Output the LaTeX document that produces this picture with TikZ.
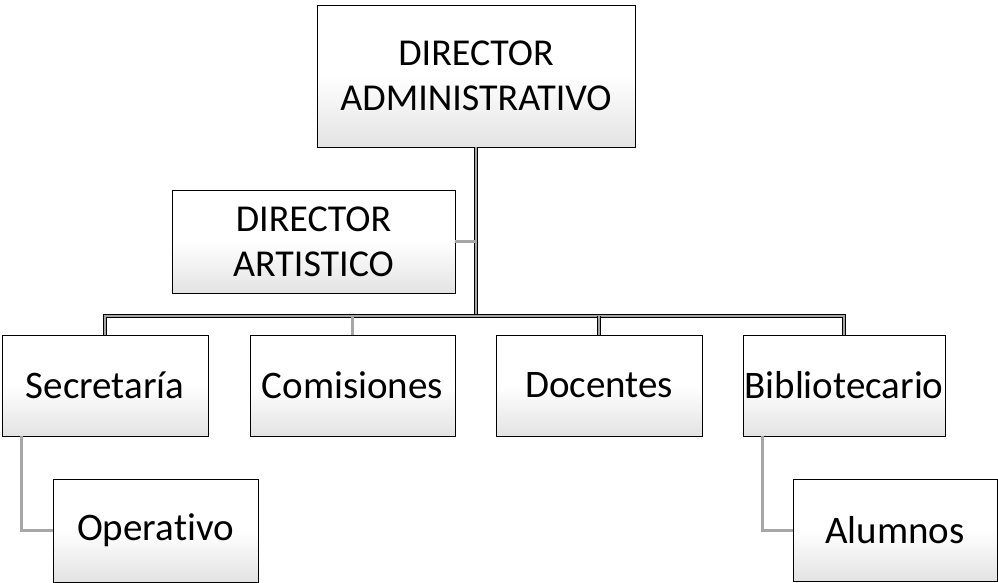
\documentclass[tikz,border=0pt]{standalone}
\usepackage{fontspec}
\setmainfont{Carlito}[Ligatures={NoCommon}]
\begin{document}
\begin{tikzpicture}[x=1pt,y=-1pt,
  box/.style={draw=black,line width=0.8pt,top color=white,bottom color=gray!22,middle color=white,
    shading angle=0,inner sep=0pt,align=center,
    font=\fontsize{38}{45}\selectfont},
  big/.style={font=\fontsize{39}{45}\selectfont},
  conn/.style={draw=black,line width=0.6pt,double=gray!70,double distance=2.4pt}]
\useasboundingbox (0,0) rectangle (998,583);
\node[box,minimum width=318pt,minimum height=142pt] (top) at (476,76) {DIRECTOR\\ADMINISTRATIVO};
\node[box,minimum width=283pt,minimum height=103pt] (art) at (313.5,241.5) {DIRECTOR\\ARTISTICO};
\node[box,big,minimum width=206pt,minimum height=101pt] (sec) at (105,385.5) {Secretaría};
\node[box,big,minimum width=205pt,minimum height=101pt] (com) at (352.5,385.5) {Comisiones};
\node[box,big,minimum width=206pt,minimum height=101pt] (doc) at (599,385.5) {Docentes};
\node[box,big,minimum width=202pt,minimum height=101pt] (bib) at (844,385.5) {Bibliotecario};
\node[box,big,minimum width=205pt,minimum height=103pt] (op) at (155.5,530.5) {Operativo};
\node[box,big,minimum width=204pt,minimum height=102pt] (alu) at (895,530.5) {Alumnos};
\coordinate (bar) at (476,316);
\draw[conn] (top.south) -- (bar);
\draw[conn] (art.east) -- (art.east -| bar);
\draw[conn] (sec.north) |- (bar) -| (bib.north);
\draw[conn] (com.north) -- (com.north |- bar);
\draw[conn] (doc.north) -- (doc.north |- bar);
\draw[conn] ([xshift=20pt]sec.south west) |- (op.west);
\draw[conn] ([xshift=20pt]bib.south west) |- (alu.west);
\end{tikzpicture}
\end{document}
